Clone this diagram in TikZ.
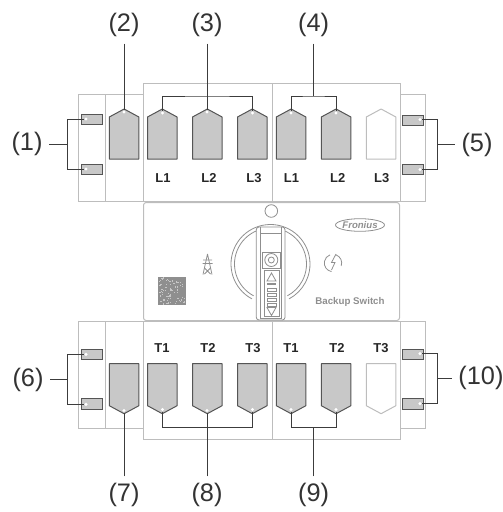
\documentclass[tikz,border=0pt]{standalone}
\usepackage{fontspec}
\setmainfont{Liberation Sans}
\definecolor{boxline}{HTML}{BDBDBD}
\definecolor{tagfill}{HTML}{C8C8C8}
\definecolor{tagline}{HTML}{555555}
\definecolor{leader}{HTML}{3C3C3C}
\definecolor{panelgray}{HTML}{8F8F8F}
\tikzset{
  housing/.style={draw=boxline,line width=.75pt},
  tagbox/.style={draw=tagline,fill=tagfill,line width=.75pt,line join=round},
  tagfree/.style={draw=boxline,fill=white,line width=.75pt,line join=round},
  termbox/.style={draw=tagline,fill=tagfill,line width=.75pt},
  termdot/.style={circle,fill=white,inner sep=0pt,minimum size=2.6pt},
  leaderline/.style={draw=leader,line width=.75pt},
  callout/.style={font=\fontsize{19}{19}\selectfont,text=black!80,inner sep=5pt},
  phase/.style={font=\fontsize{9.7}{10}\selectfont\bfseries,text=black!85,inner sep=1pt},
  paneldraw/.style={draw=panelgray,line width=.6pt}
}
\begin{document}
\begin{tikzpicture}[x=.75pt,y=-.75pt]
    \useasboundingbox (0,0) rectangle (503,512);
    % the housing
    \draw[housing] (78,94) rectangle (143.5,201.5);
    \draw[housing] (105,94)--(105,201.5);
    \draw[housing] (143.5,83.5) rectangle (400,201.5);
    \draw[housing] (272.3,83.5)--(272.3,201.5);
    \draw[housing] (400,94)--(425.5,94)--(425.5,201.5)--(400,201.5);
    \draw[housing] (78,321) rectangle (143.5,428);
    \draw[housing] (105,321)--(105,428);
    \draw[housing] (143.5,321) rectangle (400,439);
    \draw[housing] (272.3,321)--(272.3,439);
    \draw[housing] (400,321)--(425.5,321)--(425.5,428)--(400,428);
    \draw[housing,rounded corners=2pt] (143.5,202.5) rectangle (399.5,320.5);
    % the terminals
    \foreach \x/\y in {81.5/114,81.5/164,402.7/115,402.7/164.6,81.5/349,81.5/398.7,402.7/349,402.7/398.7}
        \draw[termbox] (\x,\y) rectangle ++(20.7,10.3);
    % the upper and lower tags
    \foreach \x in {109.3,147.5,192.5,237.5,276.3,321.3}
        \draw[tagbox] (\x,159)--(\x,117)--(\x+14.8,109)--(\x+29.6,117)--(\x+29.6,159)--cycle;
    \draw[tagfree] (366.3,159)--(366.3,117)--(381.1,109)--(395.9,117)--(395.9,159)--cycle;
    \foreach \x in {109.3,147.5,192.5,237.5,276.3,321.3}
        \draw[tagbox] (\x,363.7)--(\x,405.7)--(\x+14.8,413.7)--(\x+29.6,405.7)--(\x+29.6,363.7)--cycle;
    \draw[tagfree] (366.3,363.7)--(366.3,405.7)--(381.1,413.7)--(395.9,405.7)--(395.9,363.7)--cycle;
    % the phases
    \node[phase] (l1a) at (163,178) {L1};
    \node[phase] (l2a) at (209,178) {L2};
    \node[phase] (l3a) at (254,178) {L3};
    \node[phase] (l1b) at (291.5,178) {L1};
    \node[phase] (l2b) at (337.7,178) {L2};
    \node[phase] (l3b) at (381.7,178) {L3};
    \node[phase] (t1a) at (162,348.3) {T1};
    \node[phase] (t2a) at (208,348.3) {T2};
    \node[phase] (t3a) at (253,348.3) {T3};
    \node[phase] (t1b) at (291,348.3) {T1};
    \node[phase] (t2b) at (337,348.3) {T2};
    \node[phase] (t3b) at (381,348.3) {T3};
    % the switch panel
    \draw[paneldraw] (271.3,211) circle (6.3);
    \draw[paneldraw] ([shift={(118:39.5)}]270.5,264) arc (118:422:39.5);
    \draw[paneldraw] ([shift={(118:36)}]270.5,264) arc (118:422:36);
    \draw[paneldraw,fill=white,rounded corners=2pt] (256.3,227)--(285,227)--(285,320)--(256.3,320)--cycle;
    \draw[paneldraw] (260,227)--(260,318)--(281.3,318)--(281.3,227);
    \draw[paneldraw] (260,233.7)--(281.3,233.7);
    \draw[paneldraw] (262.3,252) rectangle (280.3,268.7);
    \draw[paneldraw] (271.3,260) circle (6.5);
    \draw[paneldraw] (271.3,260) circle (3);
    \draw[paneldraw] (264,270.3) rectangle (279.3,316.5);
    \draw[paneldraw] (271.5,273)--(267,281)--(276,281)--cycle;
    \fill[panelgray] (267,282.5) rectangle (276,285);
    \foreach \y in {288,293,298,303}
        \draw[paneldraw] (267,\y) rectangle (276,\y+3);
    \draw[paneldraw] (267,307.5)--(276,307.5)--(271.5,315.5)--cycle;
    % the pylon
    \draw[paneldraw] (207.5,254)--(203,274.5) (207.5,254)--(212,274.5);
    \draw[paneldraw] (203,260)--(212,260) (202.5,263.5)--(212.5,263.5) (204.5,268)--(210.5,274) (210.5,268)--(204.5,274);
    % the code square
    \fill[panelgray] (158.3,277) rectangle (185.7,305);
    \pgfmathsetseed{7}
    \foreach \i in {1,...,70}
        \fill[black!22] ({158.5+rnd*26},{277.2+rnd*26.5}) rectangle ++(1.2,1.2);
    % the logo and the sign
    \draw[paneldraw] (360,225) ellipse (24.5 and 6.3);
    \node[inner sep=0pt,text=panelgray,font=\fontsize{7.2}{8}\selectfont\bfseries\itshape] (logo) at (360,225) {Fronius};
    \node[inner sep=0pt,text=panelgray,font=\fontsize{7.3}{8}\selectfont\bfseries] (sign) at (350,301.7) {Backup Switch};
    % the backup symbol
    \draw[paneldraw] ([shift={(100:8.7)}]333,263) arc (100:250:8.7);
    \draw[paneldraw] ([shift={(290:8.7)}]333,263) arc (290:380:8.7);
    \draw[paneldraw] (336,254)--(331.5,262.5)--(335,262.5)--(331.5,270);
    % the terminal points
    \node[termdot] (p1a) at (86,119) {};
    \node[termdot] (p1b) at (86,169) {};
    \node[termdot] (p2) at (124,112) {};
    \node[termdot] (p3a) at (162.5,113) {};
    \node[termdot] (p3b) at (207,112) {};
    \node[termdot] (p3c) at (252.5,113) {};
    \node[termdot] (p4a) at (291,113) {};
    \node[termdot] (p4b) at (336,113) {};
    \node[termdot] (p5a) at (420,119.5) {};
    \node[termdot] (p5b) at (420,169.5) {};
    \node[termdot] (p6a) at (86,354.3) {};
    \node[termdot] (p6b) at (86,404.3) {};
    \node[termdot] (p7) at (124,410.5) {};
    \node[termdot] (p8a) at (162.5,409.5) {};
    \node[termdot] (p8b) at (207,410.5) {};
    \node[termdot] (p8c) at (252.5,409.5) {};
    \node[termdot] (p9a) at (291,409.5) {};
    \node[termdot] (p9b) at (336,409.5) {};
    \node[termdot] (p10a) at (420,353.7) {};
    \node[termdot] (p10b) at (420,403.7) {};
    % the callouts
    \node[callout] (n1) at (27,144) {(1)};
    \node[callout] (n2) at (124,25) {(2)};
    \node[callout] (n3) at (207,25) {(3)};
    \node[callout] (n4) at (313.7,25) {(4)};
    \node[callout] (n5) at (477,144.5) {(5)};
    \node[callout] (n6) at (28,379.5) {(6)};
    \node[callout] (n7) at (124,495) {(7)};
    \node[callout] (n8) at (207,495) {(8)};
    \node[callout] (n9) at (313.7,495) {(9)};
    \node[callout] (n10) at (481,378) {(10)};
    \coordinate (j1) at (67.5,144);
    \coordinate (j3) at (207,96);
    \coordinate (j4) at (313.7,96);
    \coordinate (j5) at (437.3,144.5);
    \coordinate (j6) at (67.5,379.5);
    \coordinate (j8) at (207,427.3);
    \coordinate (j9) at (313.7,427.3);
    \coordinate (j10) at (437.3,378);
    % the leaders
    \draw[leaderline] (n1)--(j1);
    \draw[leaderline] (p1a)-|(j1)|-(p1b);
    \draw[leaderline] (n2)--(p2);
    \draw[leaderline] (n3)--(p3b);
    \draw[leaderline] (p3a)|-(j3)-|(p3c);
    \draw[leaderline] (n4)--(j4);
    \draw[leaderline] (p4a)|-(j4)-|(p4b);
    \draw[leaderline] (n5)--(j5);
    \draw[leaderline] (p5a)-|(j5)|-(p5b);
    \draw[leaderline] (n6)--(j6);
    \draw[leaderline] (p6a)-|(j6)|-(p6b);
    \draw[leaderline] (n7)--(p7);
    \draw[leaderline] (n8)--(p8b);
    \draw[leaderline] (p8a)|-(j8)-|(p8c);
    \draw[leaderline] (n9)--(j9);
    \draw[leaderline] (p9a)|-(j9)-|(p9b);
    \draw[leaderline] (n10)--(j10);
    \draw[leaderline] (p10a)-|(j10)|-(p10b);
\end{tikzpicture}
\end{document}
